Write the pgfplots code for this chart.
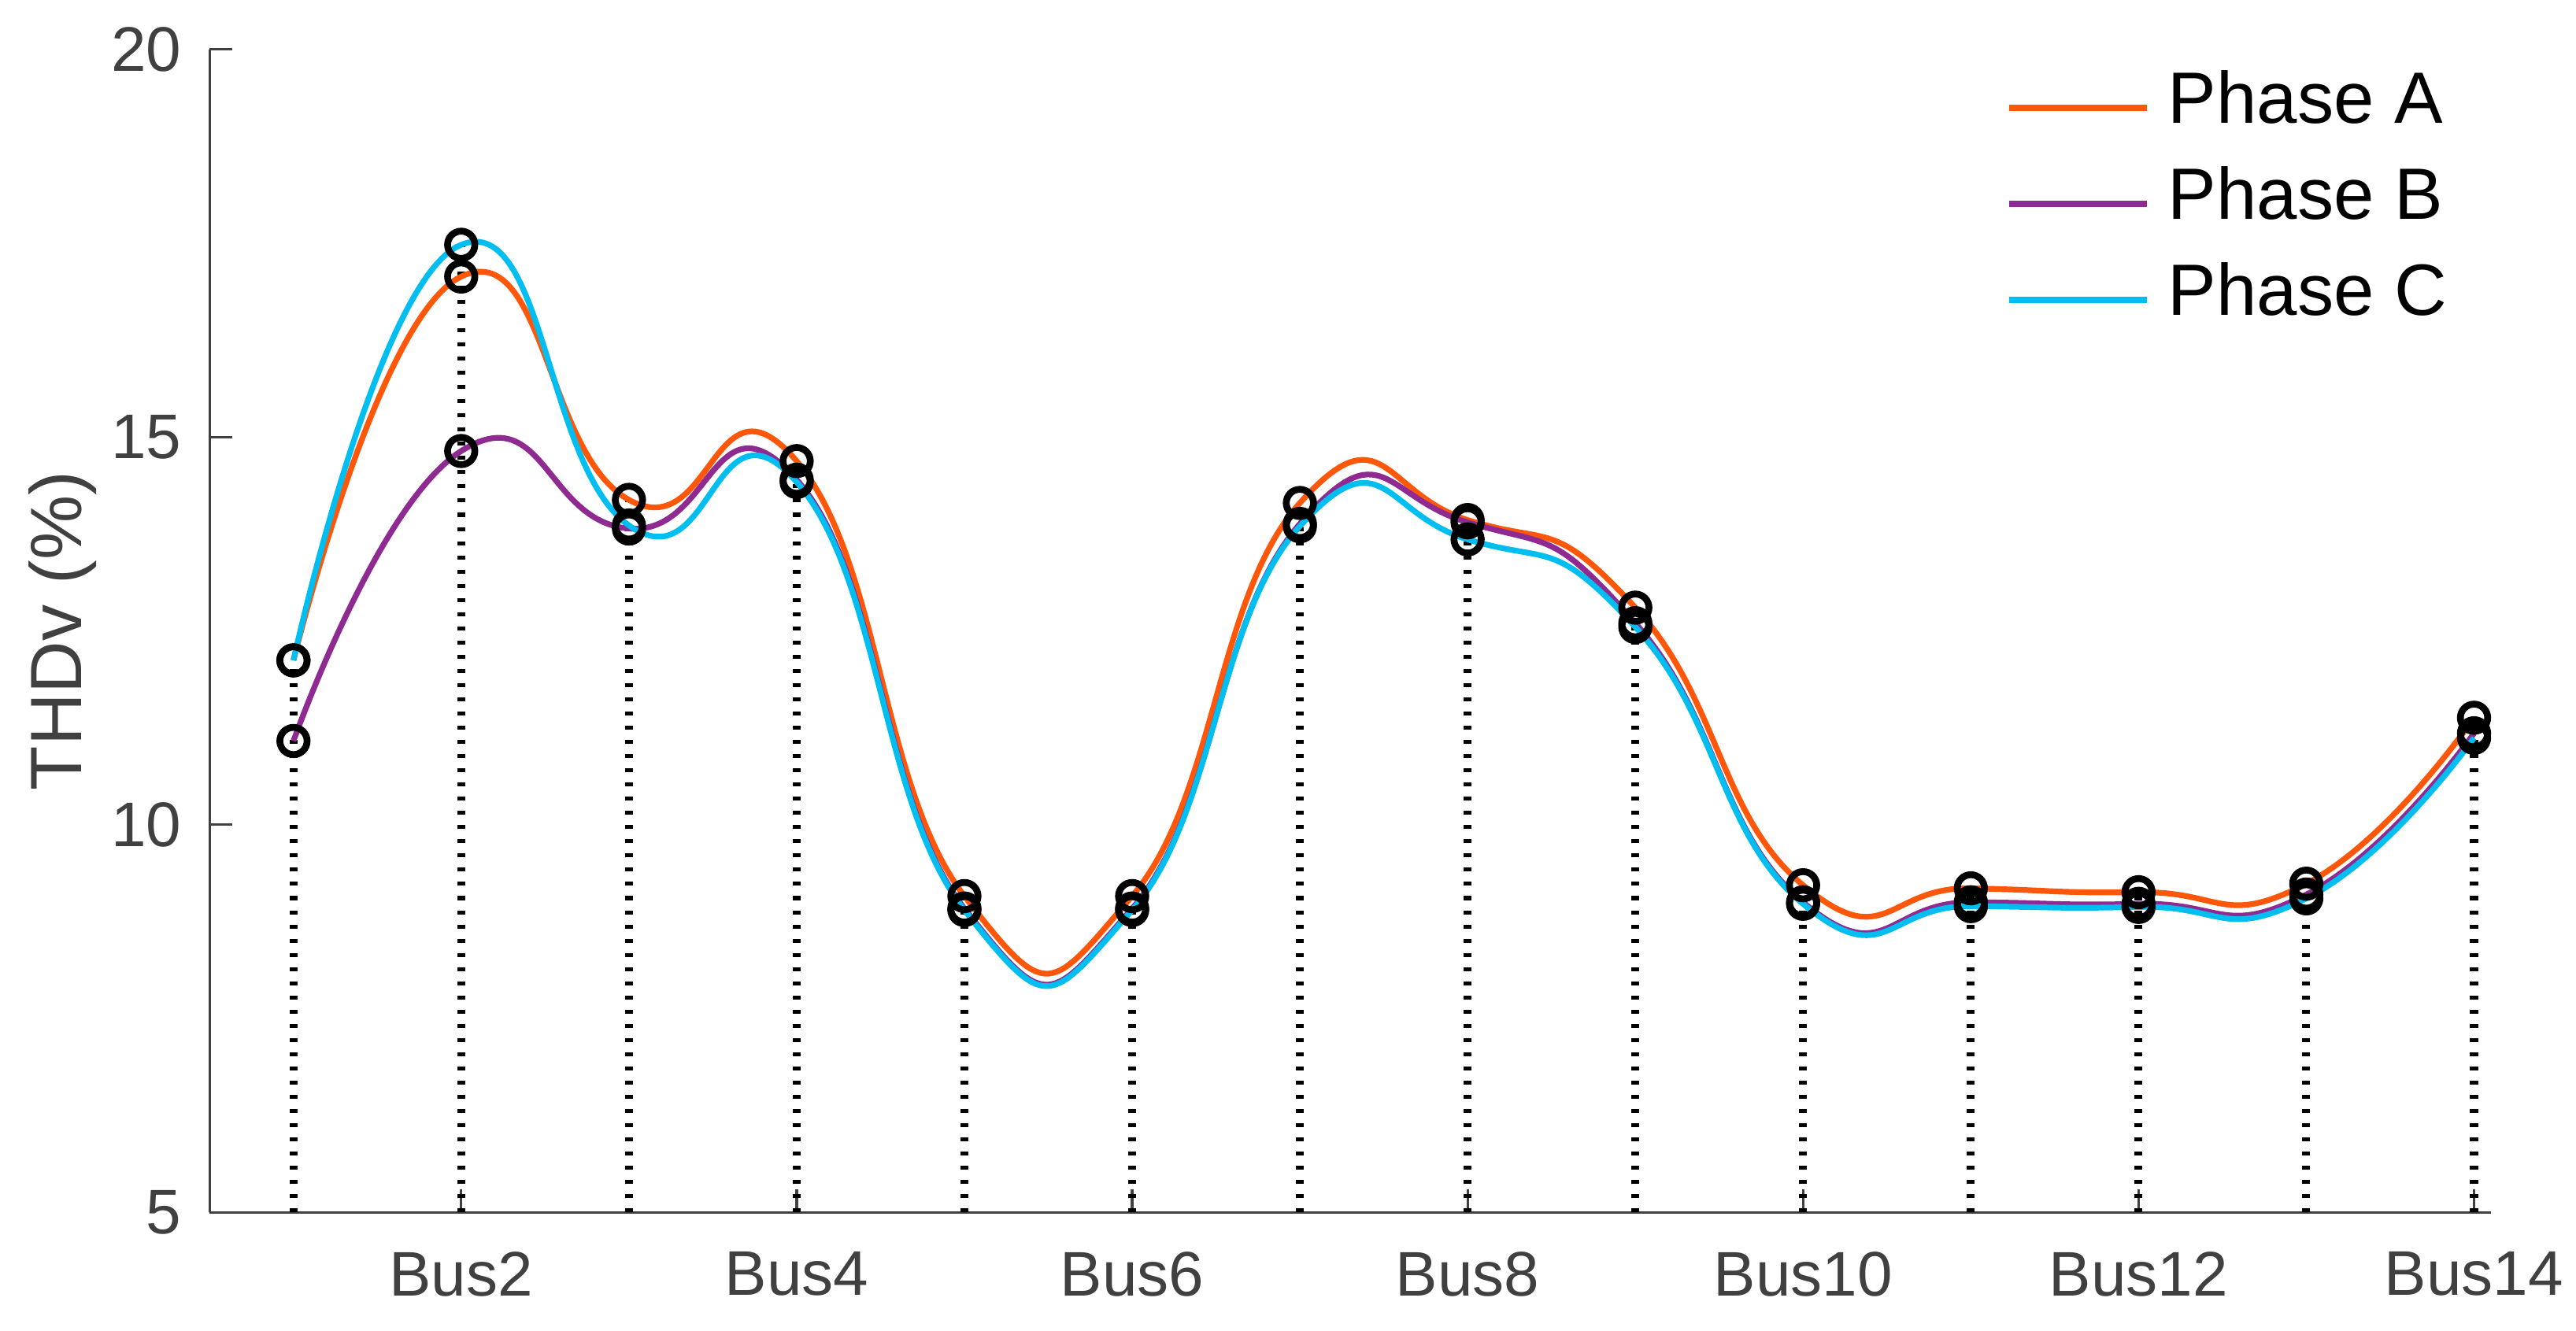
\documentclass[border=0pt]{standalone}
\usepackage{pgfplots}
\pgfplotsset{compat=1.18}
\usepackage{pgfplotstable}
\usepackage{fontspec}
\setmainfont{Liberation Sans}
\definecolor{phA}{RGB}{255,87,10}
\definecolor{phB}{RGB}{142,42,145}
\definecolor{phC}{RGB}{0,190,240}
\definecolor{axgray}{RGB}{64,64,64}

\pgfplotstableread{
x A B C
1 12.12 11.08 12.12
2 17.07 14.82 17.48
3 14.19 13.82 13.86
4 14.69 14.45 14.42
5 9.08 8.92 8.90
6 9.08 8.92 8.90
7 14.15 13.88 13.85
8 13.93 13.90 13.68
9 12.80 12.60 12.55
10 9.22 9.00 8.98
11 9.18 9.00 8.95
12 9.13 8.98 8.94
13 9.24 9.10 9.05
14 11.38 11.18 11.12
}\data

\begin{document}
\begin{tikzpicture}
\begin{axis}[
  scale only axis, width=401.6pt, height=204.8pt,
  at={(0,0)}, anchor=south west,
  xmin=0.5, xmax=14.1, ymin=5, ymax=20,
  axis x line*=bottom, axis y line*=left,
  axis line style={axgray, line width=0.45pt},
  xtick={2,4,6,8,10,12,14},
  xticklabels={Bus2,Bus4,Bus6,Bus8,Bus10,Bus12,Bus14},
  ytick={5,10,15,20},
  tick align=inside, major tick length=4pt,
  tick style={axgray, line width=0.45pt},
  ticklabel style={font=\fontsize{11.1}{13}\selectfont, text=axgray, inner sep=0pt},
  xticklabel style={anchor=north, yshift=-6.8pt},
  yticklabel style={anchor=east, xshift=-4.8pt},
  /pgf/number format/assume math mode=true,
  ylabel={THDv (\%)},
  every axis y label/.style={at={(axis description cs:0,0.5)}, xshift=-25.9pt, anchor=center, rotate=90, font=\fontsize{12.8}{15}\selectfont, text=axgray},
  legend style={draw=none, fill=none, at={(axis description cs:0,1)}, anchor=north west,
    xshift=316.3pt, yshift=-3.8pt, inner sep=0pt, outer sep=0pt,
    row sep=7.7pt, column sep=3.2pt, font=\fontsize{12.8}{15}\selectfont,
    nodes={inner sep=0pt, text height=9.2pt, text depth=0pt}},
  legend cell align=left,
  legend image code/.code={\draw[#1] (0pt,-1.9pt) -- (24.3pt,-1.9pt);},
]
\addplot[ycomb, black, line width=1.4pt, dash pattern=on 0.7pt off 1.8pt, mark=o, mark size=2.4pt, mark options={solid, line width=1.2pt}, forget plot] table[x=x,y=A]{\data};
\addplot[ycomb, black, line width=1.4pt, dash pattern=on 0.7pt off 1.8pt, mark=o, mark size=2.4pt, mark options={solid, line width=1.2pt}, forget plot] table[x=x,y=B]{\data};
\addplot[ycomb, black, line width=1.4pt, dash pattern=on 0.7pt off 1.8pt, mark=o, mark size=2.4pt, mark options={solid, line width=1.2pt}, forget plot] table[x=x,y=C]{\data};
\addplot[phA, line width=1pt, smooth, tension=0.9, no marks] table[x=x,y=A]{\data};
\addlegendentry{Phase A}
\addplot[phB, line width=1pt, smooth, tension=0.9, no marks] table[x=x,y=B]{\data};
\addlegendentry{Phase B}
\addplot[phC, line width=1pt, smooth, tension=0.9, no marks] table[x=x,y=C]{\data};
\addlegendentry{Phase C}
\end{axis}
\pgfresetboundingbox
\path[use as bounding box] (-36.9pt,-20.8pt) rectangle (416.6pt,213.5pt);
\end{tikzpicture}
\end{document}
